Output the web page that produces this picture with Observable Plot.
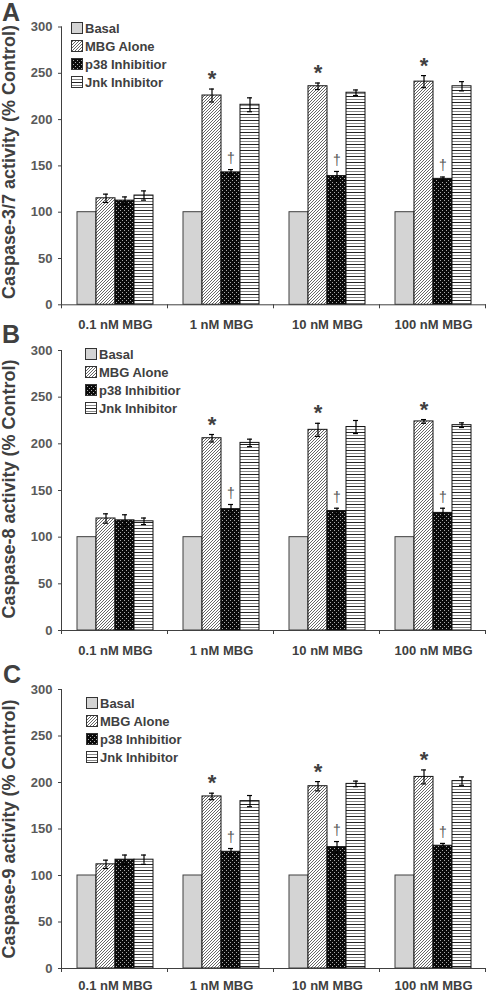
<!DOCTYPE html>
<html><head><meta charset="utf-8">
<script src="https://cdn.jsdelivr.net/npm/d3@7"></script>
<script src="https://cdn.jsdelivr.net/npm/@observablehq/plot@0.6"></script>
<style>
body{margin:0;background:#fff;font-family:"Liberation Sans",Arial,sans-serif;}
#root{position:relative;width:488px;height:992px;overflow:hidden;background:#fff;}
.panel{position:absolute;left:0;width:488px;}
.letter{position:absolute;font-weight:bold;font-size:25px;line-height:1;color:#404040;}
.ytitle{position:absolute;font-weight:bold;font-size:18px;line-height:1;color:#404040;white-space:nowrap;transform:translate(-50%,-50%) rotate(-90deg);}
.legend{position:absolute;font-weight:bold;font-size:13px;color:#404040;}
.legend .item{display:flex;align-items:center;height:18px;white-space:nowrap;}
.legend .item svg{margin-right:2px;flex:none;}
</style></head>
<body>
<svg width="0" height="0" style="position:absolute">
<defs>
<pattern id="pMBG" patternUnits="userSpaceOnUse" width="3" height="3">
 <rect width="3" height="3" fill="#fff"/>
 <path d="M-1,1 l2,-2 M0,3 l3,-3 M2,4 l2,-2" stroke="#555" stroke-width="0.9"/>
</pattern>
<pattern id="pP38" patternUnits="userSpaceOnUse" width="4" height="4">
 <rect width="4" height="4" fill="#0a0a0a"/>
 <rect x="0" y="0" width="1" height="1" fill="#aaa"/>
 <rect x="2" y="2" width="1" height="1" fill="#aaa"/>
</pattern>
<pattern id="pJnk" patternUnits="userSpaceOnUse" width="4" height="6">
 <rect width="4" height="6" fill="#fff"/>
 <rect y="0" width="4" height="1" fill="#222"/>
 <rect y="3" width="4" height="1" fill="#888"/>
</pattern>
</defs></svg>
<div id="root"></div>
<script>
// ---- data ----
const groups = ["0.1 nM MBG", "1 nM MBG", "10 nM MBG", "100 nM MBG"];
const series = ["Basal", "MBG Alone", "p38 Inhibitior", "Jnk Inhibitor"];
const yTicks = [0, 50, 100, 150, 200, 250, 300];
const panelLetters = ["A", "B", "C"];
const yTitles = ["Caspase-3/7 activity (% Control)", "Caspase-8 activity (% Control)", "Caspase-9 activity (% Control)"];
const starGroups = ["1 nM MBG", "10 nM MBG", "100 nM MBG"];

// Caspase-3/7
const c37Basal = [100, 100, 100, 100];
const c37MBG = [115, 226, 236, 241];
const c37MBGErr = [4.5, 7, 3.5, 6.5];
const c37P38 = [112.5, 143, 139, 136];
const c37P38Err = [4, 3, 5, 2];
const c37Jnk = [118, 216, 229, 236];
const c37JnkErr = [5, 7.5, 3, 5];

// Caspase-8
const c8Basal = [100, 100, 100, 100];
const c8MBG = [120, 206, 215, 224];
const c8MBGErr = [5, 4, 7, 2];
const c8P38 = [118, 130, 128, 126];
const c8P38Err = [6, 5, 3, 5];
const c8Jnk = [117, 201, 218, 220];
const c8JnkErr = [3.5, 4, 7, 2.5];

// Caspase-9
const c9Basal = [100, 100, 100, 100];
const c9MBG = [112, 185, 196, 206];
const c9MBGErr = [4.5, 3.5, 5, 7.5];
const c9P38 = [117, 125.5, 130.5, 132];
const c9P38Err = [5, 3.5, 6, 2.5];
const c9Jnk = [117, 180, 198.5, 201.5];
const c9JnkErr = [5, 6, 3, 4.5];

// ---- styling / layout (not data) ----
const fills = {"Basal": "#d4d4d4", "MBG Alone": "url(#pMBG)", "p38 Inhibitior": "url(#pP38)", "Jnk Inhibitor": "url(#pJnk)"};
const strokes = {"Basal": "#404040", "MBG Alone": "#111", "p38 Inhibitior": "#111", "Jnk Inhibitor": "#111"};
const layouts = [
  {top: 0, height: 330, mt: 26.5, mb: 25.7, pad: 15, letterTop: 0, letterLeft: 2, titleY: 162, legLeft: 71, legTop: 19},
  {top: 330, height: 330, mt: 20, mb: 30, pad: 15, letterTop: 321.5, letterLeft: 2, titleY: 489, legLeft: 85, legTop: 345},
  {top: 660, height: 332, mt: 29, mb: 24, pad: 12, letterTop: 661.5, letterLeft: 3, titleY: 829, legLeft: 86, legTop: 694}
];

function buildRows(basal, mbg, mbgErr, p38, p38Err, jnk, jnkErr) {
  const rows = [];
  groups.forEach((g, i) => {
    rows.push({group: g, series: series[0], value: basal[i], err: 0});
    rows.push({group: g, series: series[1], value: mbg[i], err: mbgErr[i]});
    rows.push({group: g, series: series[2], value: p38[i], err: p38Err[i]});
    rows.push({group: g, series: series[3], value: jnk[i], err: jnkErr[i]});
  });
  return rows;
}
const panels = [
  buildRows(c37Basal, c37MBG, c37MBGErr, c37P38, c37P38Err, c37Jnk, c37JnkErr),
  buildRows(c8Basal, c8MBG, c8MBGErr, c8P38, c8P38Err, c8Jnk, c8JnkErr),
  buildRows(c9Basal, c9MBG, c9MBGErr, c9P38, c9P38Err, c9Jnk, c9JnkErr)
];

const root = document.getElementById("root");

panels.forEach((rows, pi) => {
  const L = layouts[pi];
  const errRows = rows.filter(d => d.err > 0);
  const marks = [];
  series.forEach(s => {
    marks.push(Plot.barY(rows.filter(d => d.series === s), {
      fx: "group", x: "series", y: "value",
      fill: fills[s], stroke: strokes[s], strokeWidth: 1
    }));
  });
  marks.push(Plot.ruleX(errRows, {fx: "group", x: "series", y1: d => d.value - d.err, y2: d => d.value + d.err, stroke: "#000", strokeWidth: 1.2}));
  marks.push(Plot.tickY(errRows, {fx: "group", x: "series", y: d => d.value + d.err, stroke: "#000", strokeWidth: 1.2, insetLeft: 7, insetRight: 7}));
  marks.push(Plot.tickY(errRows, {fx: "group", x: "series", y: d => d.value - d.err, stroke: "#000", strokeWidth: 1.2, insetLeft: 7, insetRight: 7}));
  marks.push(Plot.text(rows.filter(d => d.series === "MBG Alone" && starGroups.includes(d.group)), {
    fx: "group", x: "series", y: d => d.value + d.err, text: () => "*",
    fontSize: 22, fontWeight: "bold", fill: "#404040", dy: -10
  }));
  marks.push(Plot.text(rows.filter(d => d.series === "p38 Inhibitior" && starGroups.includes(d.group)), {
    fx: "group", x: "series", y: d => d.value + d.err, text: () => "\u2020",
    fontSize: 14, fill: "#555", dy: -11
  }));
  marks.push(Plot.axisY({ticks: yTicks, tickSize: 4, tickPadding: 6, stroke: "#404040", fill: "#595959", fontSize: 13, fontWeight: "bold", label: null, tickFormat: d => String(d)}));
  marks.push(Plot.axisFx({anchor: "bottom", tickSize: 0, tickPadding: L.pad, fill: "#404040", fontSize: 13, fontWeight: "bold", label: null}));

  const plot = Plot.plot({
    width: 488, height: L.height,
    marginLeft: 60, marginRight: 1, marginTop: L.mt, marginBottom: L.mb,
    style: {fontFamily: "'Liberation Sans', Arial, sans-serif", background: "transparent", overflow: "visible"},
    fx: {domain: groups, padding: 0, label: null},
    x: {domain: series, paddingInner: 0, paddingOuter: 0.74, axis: null},
    y: {domain: [0, 300], axis: null},
    marks
  });

  // axis lines and category boundary ticks from the library's own scales
  const fx = plot.scale("fx");
  const y = plot.scale("y");
  const svg = d3.select(plot);
  const y0 = y.apply(0), yTop = y.apply(300);
  const xL = fx.apply(groups[0]);
  const xR = fx.apply(groups[groups.length - 1]) + fx.bandwidth;
  const g = svg.append("g").attr("stroke", "#404040").attr("stroke-width", 1);
  g.append("line").attr("x1", xL).attr("x2", xR).attr("y1", y0 + 0.5).attr("y2", y0 + 0.5);
  g.append("line").attr("x1", xL - 0.5).attr("x2", xL - 0.5).attr("y1", yTop).attr("y2", y0 + 4);
  groups.forEach(gr => {
    const xb = fx.apply(gr) + fx.bandwidth;
    g.append("line").attr("x1", xb - 0.5).attr("x2", xb - 0.5).attr("y1", y0).attr("y2", y0 + 4);
  });

  const div = document.createElement("div");
  div.className = "panel";
  div.style.top = L.top + "px";
  div.appendChild(plot);
  root.appendChild(div);

  const letter = document.createElement("div");
  letter.className = "letter";
  letter.textContent = panelLetters[pi];
  letter.style.left = L.letterLeft + "px";
  letter.style.top = L.letterTop + "px";
  root.appendChild(letter);

  const title = document.createElement("div");
  title.className = "ytitle";
  title.textContent = yTitles[pi];
  title.style.left = "8.5px";
  title.style.top = L.titleY + "px";
  root.appendChild(title);

  const leg = document.createElement("div");
  leg.className = "legend";
  leg.style.left = L.legLeft + "px";
  leg.style.top = L.legTop + "px";
  series.forEach(s => {
    const it = document.createElement("div");
    it.className = "item";
    it.innerHTML = `<svg width="12" height="12"><rect x="0.5" y="0.5" width="11" height="11" fill="${fills[s]}" stroke="#333" stroke-width="1"/></svg><span>${s}</span>`;
    leg.appendChild(it);
  });
  root.appendChild(leg);
});
</script>
</body></html>
